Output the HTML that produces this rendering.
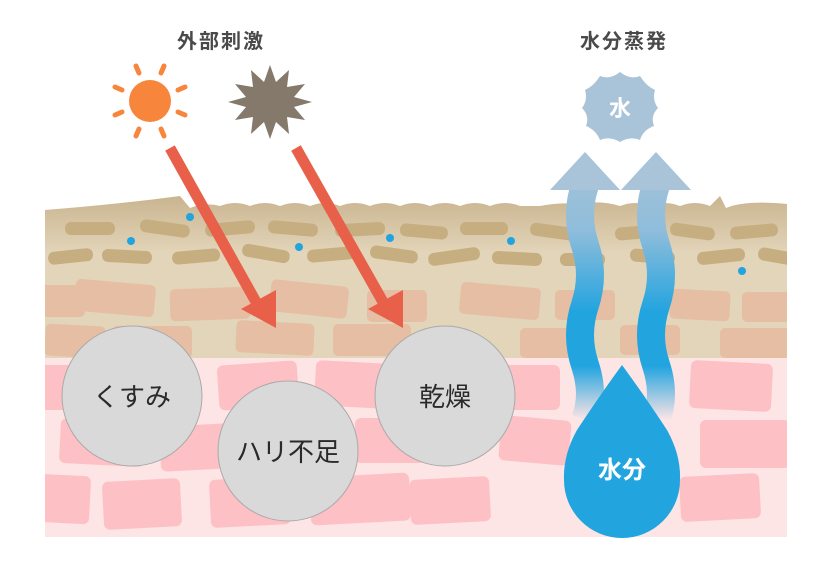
<!DOCTYPE html>
<html><head><meta charset="utf-8"><style>
html,body{margin:0;padding:0;background:#fff;width:840px;height:572px;overflow:hidden}
svg{display:block}
text{font-family:"Liberation Sans","Noto Sans CJK JP",sans-serif}
</style></head><body>
<svg width="840" height="572" viewBox="0 0 840 572" xmlns="http://www.w3.org/2000/svg">
<defs>
<linearGradient id="tan" x1="0" y1="0" x2="0" y2="1">
<stop offset="0" stop-color="#c9b48f"/><stop offset="0.35" stop-color="#e3d5ba"/><stop offset="1" stop-color="#e3d5ba"/>
</linearGradient>
<linearGradient id="strm" gradientUnits="userSpaceOnUse" x1="0" y1="150" x2="0" y2="420">
<stop offset="0" stop-color="#a9c3d8"/><stop offset="0.3" stop-color="#8fbddb"/><stop offset="0.6" stop-color="#22a4df"/><stop offset="0.8" stop-color="#22a4df"/><stop offset="1" stop-color="#22a4df" stop-opacity="0"/>
</linearGradient>
<clipPath id="skin"><rect x="45" y="150" width="742" height="387"/></clipPath>
</defs>
<g clip-path="url(#skin)">
<path d="M45 210 Q120 204 180 196 L190 208 Q205 202 220 206 Q235 200 250 206 Q265 200 280 206 Q295 200 310 206 Q325 200 340 206 Q355 200 370 206 Q385 200 400 206 Q415 200 430 206 Q445 200 460 206 Q475 200 490 206 Q505 200 520 206 L540 206 Q560 202 580 204 Q600 200 620 206 Q635 200 650 206 Q665 200 680 206 Q695 200 710 206 L720 196 L726 208 Q745 200 787 204 L787 360 L45 360 Z" fill="url(#tan)"/>
<rect x="45" y="358" width="742" height="179" fill="#fde5e6"/>
<g fill="#c6ae81">
<rect x="65" y="222" width="50" height="13" rx="6"/><rect x="140" y="222" width="50" height="13" rx="6" transform="rotate(8 165 228)"/><rect x="205" y="222" width="50" height="13" rx="6" transform="rotate(-5 230 228)"/><rect x="268" y="222" width="50" height="13" rx="6" transform="rotate(5 293 228)"/><rect x="335" y="223" width="50" height="13" rx="6" transform="rotate(-3 360 229)"/><rect x="400" y="225" width="48" height="13" rx="6" transform="rotate(5 424 231)"/><rect x="460" y="222" width="48" height="13" rx="6"/><rect x="530" y="225" width="45" height="13" rx="6" transform="rotate(8 552 231)"/><rect x="615" y="226" width="45" height="13" rx="6" transform="rotate(-5 637 232)"/><rect x="670" y="225" width="45" height="13" rx="6" transform="rotate(8 692 231)"/><rect x="730" y="225" width="48" height="13" rx="6" transform="rotate(-5 754 231)"/>
<rect x="48" y="250" width="45" height="13" rx="6" transform="rotate(-6 70 256)"/><rect x="102" y="250" width="50" height="13" rx="6" transform="rotate(3 127 256)"/><rect x="172" y="250" width="48" height="13" rx="6" transform="rotate(-5 196 256)"/><rect x="242" y="247" width="48" height="13" rx="6" transform="rotate(10 266 253)"/><rect x="307" y="248" width="48" height="13" rx="6" transform="rotate(-5 331 254)"/><rect x="370" y="248" width="48" height="13" rx="6" transform="rotate(8 394 254)"/><rect x="428" y="250" width="52" height="13" rx="6" transform="rotate(-8 454 256)"/><rect x="492" y="252" width="50" height="13" rx="6" transform="rotate(3 517 258)"/><rect x="560" y="253" width="45" height="13" rx="6"/><rect x="630" y="250" width="45" height="13" rx="6" transform="rotate(5 652 256)"/><rect x="697" y="250" width="48" height="13" rx="6" transform="rotate(-6 721 256)"/><rect x="758" y="250" width="40" height="13" rx="6" transform="rotate(10 778 256)"/>
</g>
<g fill="#e5bea4">
<rect x="40" y="285" width="45" height="32" rx="5"/><rect x="75" y="282" width="80" height="32" rx="5" transform="rotate(5 115 298)"/><rect x="170" y="288" width="80" height="32" rx="5" transform="rotate(-2 210 304)"/><rect x="270" y="283" width="78" height="32" rx="5" transform="rotate(6 309 299)"/><rect x="367" y="290" width="60" height="32" rx="5"/><rect x="460" y="285" width="80" height="32" rx="5" transform="rotate(5 500 301)"/><rect x="555" y="290" width="60" height="30" rx="5"/><rect x="670" y="290" width="60" height="30" rx="5" transform="rotate(3 700 305)"/><rect x="742" y="292" width="50" height="30" rx="5"/>
<rect x="45" y="325" width="60" height="32" rx="5" transform="rotate(3 75 341)"/><rect x="112" y="326" width="80" height="32" rx="5"/><rect x="236" y="322" width="78" height="32" rx="5" transform="rotate(3 275 338)"/><rect x="333" y="324" width="78" height="32" rx="5"/><rect x="520" y="328" width="60" height="30" rx="5"/><rect x="620" y="325" width="60" height="30" rx="5"/><rect x="720" y="328" width="70" height="30" rx="5"/>
</g>
<g fill="#fdc0c5">
<rect x="30" y="365" width="50" height="45" rx="6"/><rect x="218" y="363" width="80" height="45" rx="6" transform="rotate(-4 258 385)"/><rect x="315" y="362" width="75" height="45" rx="6" transform="rotate(3 352 385)"/><rect x="500" y="365" width="60" height="45" rx="6"/><rect x="690" y="362" width="82" height="48" rx="6" transform="rotate(3 731 386)"/>
<rect x="60" y="420" width="85" height="45" rx="6" transform="rotate(3 102 442)"/><rect x="160" y="425" width="70" height="45" rx="6" transform="rotate(-3 195 447)"/><rect x="355" y="418" width="70" height="45" rx="6"/><rect x="500" y="418" width="70" height="45" rx="6" transform="rotate(5 535 440)"/><rect x="700" y="420" width="90" height="48" rx="6"/>
<rect x="35" y="475" width="55" height="48" rx="6" transform="rotate(3 62 499)"/><rect x="103" y="480" width="78" height="48" rx="6" transform="rotate(-3 142 504)"/><rect x="210" y="478" width="80" height="48" rx="6" transform="rotate(-3 250 502)"/><rect x="310" y="475" width="100" height="48" rx="6" transform="rotate(-3 360 499)"/><rect x="410" y="478" width="80" height="45" rx="6" transform="rotate(-3 450 500)"/><rect x="680" y="475" width="80" height="45" rx="6" transform="rotate(-3 720 497)"/>
</g>
<g fill="#22a4df"><circle cx="190" cy="217" r="4"/><circle cx="131" cy="241" r="4"/><circle cx="299" cy="247" r="4"/><circle cx="390" cy="238" r="4"/><circle cx="511" cy="241" r="4"/><circle cx="742" cy="271" r="4"/></g>
</g>
<g stroke="#aaa" stroke-width="1" fill="#d9d9d9">
<circle cx="132" cy="396" r="70"/><circle cx="288" cy="451" r="70"/><circle cx="445" cy="396" r="70"/>
</g>
<g font-size="26" fill="#2a2a2a" text-anchor="middle">
<text x="132" y="406">くすみ</text><text x="288" y="461">ハリ不足</text><text x="445" y="406">乾燥</text>
</g>
<g stroke="#e8604a" stroke-width="11" fill="none"><line x1="170" y1="148" x2="256" y2="302"/><line x1="296" y1="148" x2="383" y2="302"/></g>
<g fill="#e8604a"><polygon points="276,328 241,309 276,290"/><polygon points="403,328 368,309 403,290"/></g>
<g fill="none" stroke="url(#strm)" stroke-width="28">
<path d="M585 185 Q575 215 585 245 Q595 275 585 305 Q575 335 585 365 Q595 395 585 420"/>
<path d="M656 185 Q646 215 656 245 Q666 275 656 305 Q646 335 656 365 Q666 395 656 420"/>
</g>
<g fill="#a9c3d8"><polygon points="585,152 550,190 620,190"/><polygon points="656,152 621,190 691,190"/></g>
<path d="M622 365 Q600 395 577 430 Q563 455 564 480 A58 58 0 0 0 680 480 Q681 455 667 430 Q644 395 622 365 Z" fill="#22a4df"/>
<text x="622" y="478" font-size="24" fill="#fff" text-anchor="middle" font-weight="bold">水分</text>
<circle cx="150" cy="101" r="21" fill="#f8853c"/>
<g stroke="#f8853c" stroke-width="5" stroke-linecap="round">
<line x1="136" y1="66" x2="139" y2="73"/><line x1="164" y1="66" x2="161" y2="73"/>
<line x1="115" y1="87" x2="122" y2="90"/><line x1="185" y1="87" x2="178" y2="90"/>
<line x1="115" y1="115" x2="122" y2="112"/><line x1="185" y1="115" x2="178" y2="112"/>
<line x1="136" y1="136" x2="139" y2="129"/><line x1="164" y1="136" x2="161" y2="129"/>
</g>
<polygon fill="#85796b" points="270,65 276,82 289,70 287,87 305,84 294,97 312,102 294,107 305,120 287,117 289,134 276,122 270,139 264,122 251,134 253,117 235,120 246,107 228,102 246,97 235,84 253,87 251,70 264,82"/>
<path fill="#a9c3d8" d="M620 72 Q630 80 640 76 Q646 86 655 90 Q652 100 658 108 Q650 116 654 126 Q643 130 640 140 Q630 136 620 142 Q610 136 600 140 Q596 130 586 126 Q590 116 582 108 Q588 100 585 90 Q594 86 600 76 Q610 80 620 72 Z"/>
<text x="620" y="116" font-size="22" font-weight="bold" fill="#fff" text-anchor="middle">水</text>
<g font-size="20" font-weight="bold" fill="#4a4a4a" text-anchor="middle" letter-spacing="2"><text x="221" y="48">外部刺激</text><text x="624" y="48">水分蒸発</text></g>
</svg>
</body></html>
